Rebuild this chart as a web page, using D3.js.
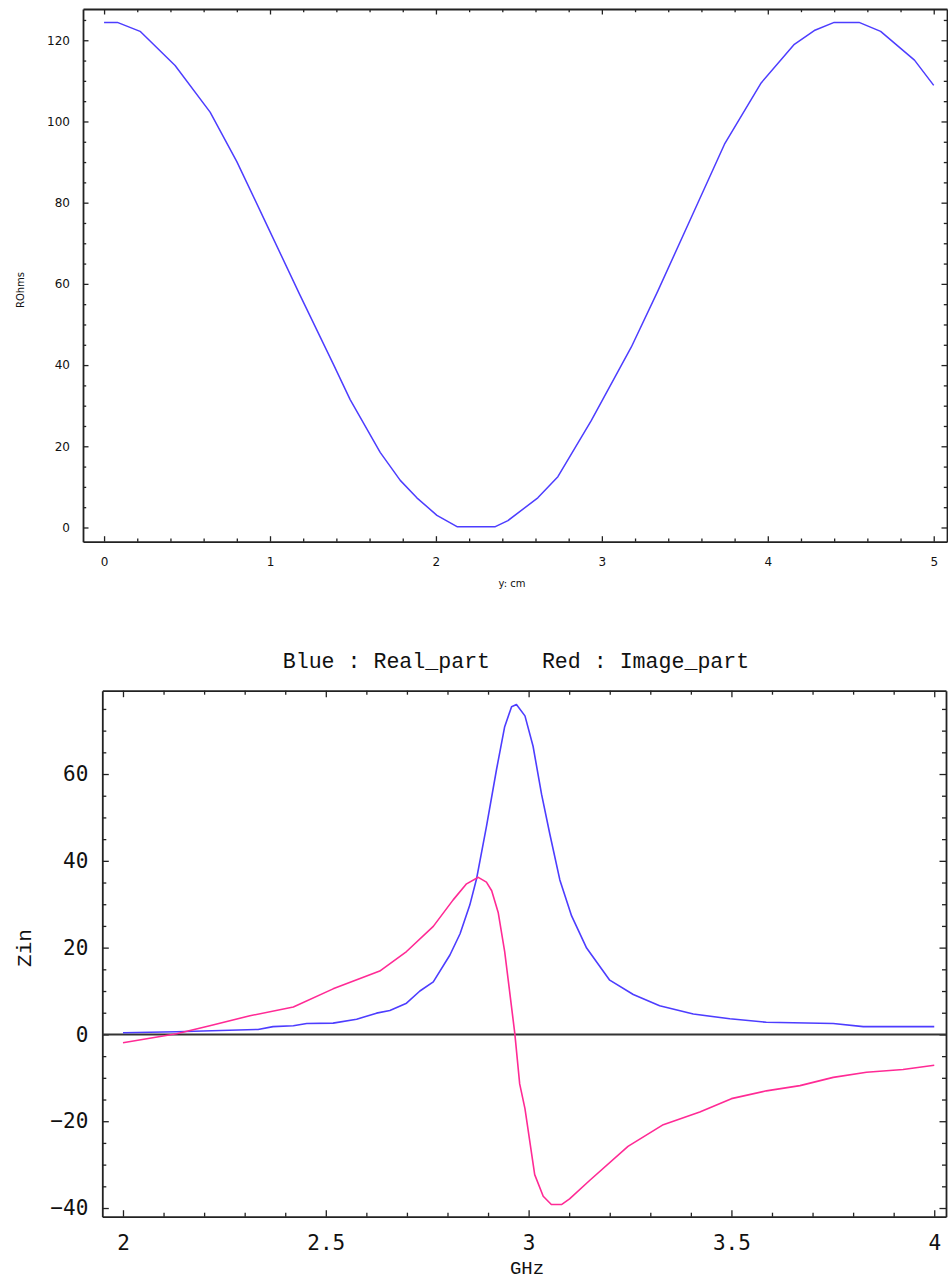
<!DOCTYPE html>
<html>
<head>
<meta charset="utf-8">
<script src="https://cdn.jsdelivr.net/npm/d3@7"></script>
<style>
  body { margin: 0; background: #fff; }
  .domain { stroke: #222; stroke-width: 1.8; }
  .tick line { stroke: #222; stroke-width: 1.3; }
</style>
</head>
<body>
<script>
// Top plot: resistance along the line (y in cm)
const posCm = [0, 0.08, 0.217, 0.428, 0.639, 0.8, 0.98, 1.18, 1.383, 1.483, 1.664, 1.785, 1.885, 2.006, 2.127, 2.358,
    2.434, 2.614, 2.735, 2.936, 3.177, 3.337, 3.538, 3.739, 3.96, 4.16, 4.28, 4.40, 4.55, 4.68, 4.884, 5.0];
const rOhms = [124.4, 124.4, 122.2, 113.8, 102.3, 90.1, 74.6, 57.3, 40.1, 31.5, 18.5, 11.6, 7.3, 3.0, 0.2, 0.2,
    1.7, 7.3, 12.5, 26.3, 44.4, 58.2, 76.3, 94.4, 109.5, 119.0, 122.4, 124.4, 124.4, 122.2, 115.1, 108.9];

// Bottom plot: Zin real part (blue)
const realGHz = [2.0, 2.132, 2.333, 2.37, 2.42, 2.453, 2.518, 2.576, 2.625, 2.658, 2.699, 2.732, 2.765, 2.806, 2.831,
    2.855, 2.872, 2.896, 2.921, 2.941, 2.958, 2.97, 2.991, 3.011, 3.032, 3.052, 3.077, 3.106, 3.143, 3.2, 3.258,
    3.323, 3.406, 3.496, 3.586, 3.751, 3.825, 4.0];
const realZ = [0.4, 0.6, 1.15, 1.8, 2.0, 2.5, 2.6, 3.5, 4.9, 5.5, 7.2, 10.0, 12.1, 18.3, 23.2,
    29.8, 36.0, 47.9, 61.1, 70.9, 75.5, 76.0, 73.4, 66.4, 55.3, 46.3, 35.6, 27.3, 19.9, 12.5, 9.2,
    6.6, 4.7, 3.6, 2.8, 2.5, 1.8, 1.8];

// Bottom plot: Zin imaginary part (red)
const imagGHz = [2.0, 2.132, 2.214, 2.313, 2.42, 2.518, 2.633, 2.699, 2.765, 2.814, 2.847, 2.876, 2.896, 2.909,
    2.925, 2.941, 2.966, 2.978, 2.991, 3.015, 3.036, 3.056, 3.081, 3.101, 3.151, 3.245, 3.332, 3.422, 3.5,
    3.586, 3.669, 3.751, 3.833, 3.923, 4.0];
const imagZ = [-1.9, 0.16, 2.0, 4.3, 6.3, 10.5, 14.6, 19.1, 24.9, 31.0, 34.7, 36.2, 35.1, 33.1,
    28.1, 19.1, 0.2, -11.4, -17.1, -32.3, -37.3, -39.2, -39.2, -37.9, -33.6, -25.8, -20.8, -17.9, -14.8,
    -13.0, -11.8, -9.9, -8.7, -8.1, -7.1];

// Tick values
const topXMajor = [0, 1, 2, 3, 4, 5];
const topXMinor = d3.range(0, 5.01, 0.2).filter(v => Math.abs(v - Math.round(v)) > 0.01);
const topYMajor = [0, 20, 40, 60, 80, 100, 120];
const topYMinor = d3.range(0, 126, 5).filter(v => v % 20 !== 0);
const botXMajor = [2, 2.5, 3, 3.5, 4];
const botXMinor = d3.range(2, 4.01, 0.1).filter(v => Math.abs(v * 2 - Math.round(v * 2)) > 0.01);
const botYMajor = [-40, -20, 0, 20, 40, 60];
const botYMinor = d3.range(-40, 76, 5).filter(v => v % 20 !== 0);

const width = 948;
const height = 1280;

const svg = d3.select("body")
    .append("svg")
    .attr("width", width)
    .attr("height", height);

const fmt = d3.format("~g");

// Draws a Mathematica style frame: ticks on all four sides pointing inward
function frame(x, y, o) {
    const [x0, x1] = x.range();
    const [y0, y1] = y.range();
    const g = svg.append("g");

    g.append("g").attr("transform", `translate(0,${y0})`)
        .call(d3.axisBottom(x).tickValues(o.xMajor).tickSize(-o.major).tickSizeOuter(0)
            .tickPadding(o.xPad).tickFormat(fmt))
        .call(a => a.selectAll("text").style("font", o.font).attr("fill", "#111"));
    g.append("g").attr("transform", `translate(0,${y0})`)
        .call(d3.axisBottom(x).tickValues(o.xMinor).tickSize(-o.minor).tickFormat(""))
        .call(a => a.select(".domain").remove());
    g.append("g").attr("transform", `translate(0,${y1})`)
        .call(d3.axisTop(x).tickValues(o.xMajor).tickSize(-o.major).tickSizeOuter(0).tickFormat(""));
    g.append("g").attr("transform", `translate(0,${y1})`)
        .call(d3.axisTop(x).tickValues(o.xMinor).tickSize(-o.minor).tickFormat(""))
        .call(a => a.select(".domain").remove());

    g.append("g").attr("transform", `translate(${x0},0)`)
        .call(d3.axisLeft(y).tickValues(o.yMajor).tickSize(-o.major).tickSizeOuter(0)
            .tickPadding(o.yPad).tickFormat(fmt))
        .call(a => a.selectAll("text").style("font", o.font).attr("fill", "#111"));
    g.append("g").attr("transform", `translate(${x0},0)`)
        .call(d3.axisLeft(y).tickValues(o.yMinor).tickSize(-o.minor).tickFormat(""))
        .call(a => a.select(".domain").remove());
    g.append("g").attr("transform", `translate(${x1},0)`)
        .call(d3.axisRight(y).tickValues(o.yMajor).tickSize(-o.major).tickSizeOuter(0).tickFormat(""));
    g.append("g").attr("transform", `translate(${x1},0)`)
        .call(d3.axisRight(y).tickValues(o.yMinor).tickSize(-o.minor).tickFormat(""))
        .call(a => a.select(".domain").remove());
}

// ---- Top plot ----
const x1 = d3.scaleLinear().domain([-0.127, 5.08]).range([83, 947]);
const y1 = d3.scaleLinear().domain([-3.5, 127.7]).range([541.7, 9]);

frame(x1, y1, {
    xMajor: topXMajor, xMinor: topXMinor, yMajor: topYMajor, yMinor: topYMinor,
    major: 5.5, minor: 3.2, xPad: 16, yPad: 13, font: "12px 'DejaVu Sans'"
});

svg.append("path")
    .datum(d3.zip(posCm, rOhms))
    .attr("fill", "none")
    .attr("stroke", "#4d3dff")
    .attr("stroke-width", 1.5)
    .attr("stroke-linejoin", "round")
    .attr("d", d3.line().x(d => x1(d[0])).y(d => y1(d[1])));

svg.append("text")
    .attr("transform", "translate(24,290) rotate(-90)")
    .attr("text-anchor", "middle")
    .style("font", "10px 'DejaVu Sans'")
    .attr("fill", "#111")
    .text("ROhms");

svg.append("text")
    .attr("x", 512)
    .attr("y", 587)
    .attr("text-anchor", "middle")
    .style("font", "10px 'DejaVu Sans'")
    .attr("fill", "#111")
    .text("y: cm");

// ---- Bottom plot ----
const x2 = d3.scaleLinear().domain([1.949, 4.029]).range([102.3, 946]);
const y2 = d3.scaleLinear().domain([-42.0, 79.2]).range([1216.7, 690.7]);

frame(x2, y2, {
    xMajor: botXMajor, xMinor: botXMinor, yMajor: botYMajor, yMinor: botYMinor,
    major: 6.5, minor: 4, xPad: 18, yPad: 14, font: "21px 'DejaVu Sans Mono'"
});

// zero line
svg.append("line")
    .attr("x1", x2.range()[0]).attr("x2", x2.range()[1])
    .attr("y1", y2(0)).attr("y2", y2(0))
    .attr("stroke", "#333")
    .attr("stroke-width", 2);

const line2 = d3.line().x(d => x2(d[0])).y(d => y2(d[1]));

svg.append("path")
    .datum(d3.zip(realGHz, realZ))
    .attr("fill", "none")
    .attr("stroke", "#4d3dff")
    .attr("stroke-width", 1.6)
    .attr("stroke-linejoin", "round")
    .attr("d", line2);

svg.append("path")
    .datum(d3.zip(imagGHz, imagZ))
    .attr("fill", "none")
    .attr("stroke", "#ff2a95")
    .attr("stroke-width", 1.6)
    .attr("stroke-linejoin", "round")
    .attr("d", line2);

svg.append("text")
    .attr("x", 516)
    .attr("y", 668)
    .attr("text-anchor", "middle")
    .style("font", "21.6px 'Liberation Mono'")
    .style("white-space", "pre")
    .attr("fill", "#111")
    .text("Blue : Real_part    Red : Image_part");

svg.append("text")
    .attr("transform", "translate(25,948) rotate(-90)")
    .attr("text-anchor", "middle")
    .attr("dominant-baseline", "central")
    .style("font", "21px 'Liberation Mono'")
    .attr("fill", "#111")
    .text("Zin");

svg.append("text")
    .attr("x", 527)
    .attr("y", 1274)
    .attr("text-anchor", "middle")
    .style("font", "19px 'Liberation Mono'")
    .attr("fill", "#111")
    .text("GHz");
</script>
</body>
</html>
